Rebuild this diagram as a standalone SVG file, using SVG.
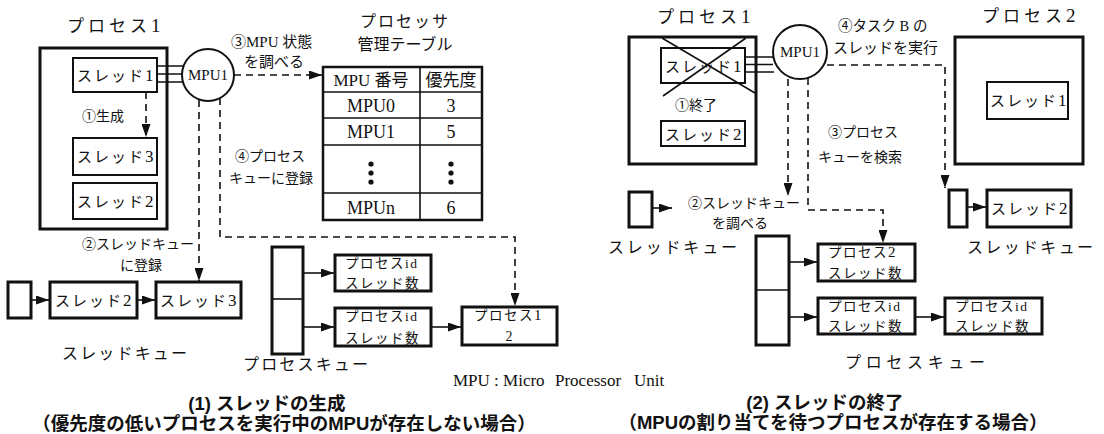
<svg xmlns="http://www.w3.org/2000/svg" width="1104" height="434" viewBox="0 0 1104 434">
<style>
.m{font-family:"Liberation Serif","Noto Sans CJK JP",serif;fill:#111}
.g{font-family:"Liberation Sans","Noto Sans CJK JP",sans-serif;font-weight:bold;fill:#111}
.c{font-family:"Noto Sans CJK JP",sans-serif}
.box{fill:#fff;stroke:#111;stroke-width:2}
.bx3{fill:#fff;stroke:#111;stroke-width:3}
.ln{fill:none;stroke:#111;stroke-width:1.6}
.ds{fill:none;stroke:#111;stroke-width:1.6;stroke-dasharray:7 5}
.dot{fill:#111}
</style>
<defs>
<marker id="ah" markerUnits="userSpaceOnUse" markerWidth="13" markerHeight="9" refX="13" refY="4.5" orient="auto">
<path d="M0,0 L13,4.5 L0,9 z" fill="#111"/>
</marker>
</defs>
<rect width="1104" height="434" fill="#fff"/>

<!-- ===== Left diagram (1) ===== -->
<g id="left-process1">
<text class="m" x="67" y="32" font-size="17" letter-spacing="4">プロセス<tspan font-size="19">1</tspan></text>
<rect class="bx3" x="40" y="48" width="127" height="181"/>
</g>
<g id="left-thread1">
<rect class="box" x="73" y="58" width="84" height="34"/>
<text class="m" x="77" y="81" font-size="15" letter-spacing="2">スレッド<tspan font-size="17">1</tspan></text>
</g>
<g id="left-label-create">
<text class="m" x="82" y="121" font-size="14"><tspan class="c">①</tspan>生成</text>
</g>
<g id="left-thread3">
<rect class="box" x="73" y="138" width="84" height="37"/>
<text class="m" x="77" y="162" font-size="15" letter-spacing="2">スレッド<tspan font-size="17">3</tspan></text>
</g>
<g id="left-thread2">
<rect class="box" x="73" y="183" width="84" height="36"/>
<text class="m" x="77" y="207" font-size="15" letter-spacing="2">スレッド<tspan font-size="17">2</tspan></text>
</g>
<g id="left-mpu1">
<circle cx="208" cy="75" r="26" fill="#fff" stroke="#111" stroke-width="2"/>
<text class="m" x="208" y="80" font-size="15" text-anchor="middle">MPU1</text>
</g>
<g id="left-label3">
<text class="m" x="231" y="47" font-size="15"><tspan class="c">③</tspan>MPU 状態</text>
<text class="m" x="244" y="67" font-size="15">を調べる</text>
</g>
<g id="left-label4">
<text class="m" x="235" y="161" font-size="14"><tspan class="c">④</tspan>プロセス</text>
<text class="m" x="229" y="183" font-size="14">キューに登録</text>
</g>
<g id="table-title">
<text class="m" x="405" y="27" font-size="16" text-anchor="middle" letter-spacing="2">プロセッサ</text>
<text class="m" x="405" y="50" font-size="16" text-anchor="middle">管理テーブル</text>
</g>
<g id="table">
<rect x="323" y="67" width="159" height="153" fill="#fff" stroke="#111" stroke-width="2.5"/>
<path class="ln" d="M323,92 H482 M323,118 H482 M323,145 H482 M323,193 H482 M420,67 V220"/>
<text class="m" x="371" y="86" font-size="17" text-anchor="middle">MPU 番号</text>
<text class="m" x="451" y="86" font-size="17" text-anchor="middle">優先度</text>
<text class="m" x="371" y="112" font-size="18" text-anchor="middle">MPU0</text>
<text class="m" x="451" y="112" font-size="18" text-anchor="middle">3</text>
<text class="m" x="371" y="138" font-size="18" text-anchor="middle">MPU1</text>
<text class="m" x="451" y="138" font-size="18" text-anchor="middle">5</text>
<circle class="dot" cx="371" cy="164" r="2.6"/><circle class="dot" cx="371" cy="173" r="2.6"/><circle class="dot" cx="371" cy="182" r="2.6"/>
<circle class="dot" cx="451" cy="164" r="2.6"/><circle class="dot" cx="451" cy="173" r="2.6"/><circle class="dot" cx="451" cy="182" r="2.6"/>
<text class="m" x="371" y="214" font-size="18" text-anchor="middle">MPUn</text>
<text class="m" x="451" y="214" font-size="18" text-anchor="middle">6</text>
</g>
<g id="left-label2">
<text class="m" x="82" y="249" font-size="14"><tspan class="c">②</tspan>スレッドキュー</text>
<text class="m" x="120" y="270" font-size="14">に登録</text>
</g>
<g id="left-tq-head"><rect class="bx3" x="8" y="282" width="23" height="36"/></g>
<g id="left-tq-thread2">
<rect class="bx3" x="50" y="282" width="87" height="36"/>
<text class="m" x="55" y="306" font-size="15" letter-spacing="2">スレッド<tspan font-size="17">2</tspan></text>
</g>
<g id="left-tq-thread3">
<rect class="bx3" x="156" y="282" width="85" height="36"/>
<text class="m" x="160" y="306" font-size="15" letter-spacing="2">スレッド<tspan font-size="17">3</tspan></text>
</g>
<g id="left-tq-label">
<text class="m" x="62" y="359" font-size="16" textLength="125" lengthAdjust="spacing">スレッドキュー</text>
</g>
<g id="left-pq-head">
<rect class="bx3" x="272" y="247" width="31" height="107"/>
<path class="ln" stroke-width="2.5" d="M272,299 H303"/>
</g>
<g id="left-pq-entry1">
<rect class="bx3" x="335" y="255" width="96" height="36"/>
<text class="m" x="345" y="268" font-size="13.5" letter-spacing="1.5">プロセスid</text>
<text class="m" x="345" y="288" font-size="13.5" letter-spacing="1.5">スレッド数</text>
</g>
<g id="left-pq-entry2">
<rect class="bx3" x="335" y="308" width="96" height="38"/>
<text class="m" x="345" y="321" font-size="13.5" letter-spacing="1.5">プロセスid</text>
<text class="m" x="345" y="343" font-size="13.5" letter-spacing="1.5">スレッド数</text>
</g>
<g id="left-pq-process1">
<rect class="bx3" x="462" y="307" width="95" height="38"/>
<text class="m" x="474" y="320" font-size="13.5" letter-spacing="1.5">プロセス<tspan font-size="15">1</tspan></text>
<text class="m" x="509" y="341" font-size="14" text-anchor="middle">2</text>
</g>
<g id="left-pq-label">
<text class="m" x="243" y="370" font-size="16" textLength="125" lengthAdjust="spacing">プロセスキュー</text>
</g>
<g id="legend">
<text class="m" x="453" y="386" font-size="17">MPU : Micro<tspan x="555">Processor</tspan><tspan x="634">Unit</tspan></text>
</g>
<g id="caption-left">
<text class="g" x="267" y="410" font-size="18.5" text-anchor="middle">(1)  スレッドの生成</text>
<text class="g" x="284" y="430" font-size="18.5" text-anchor="middle">（優先度の低いプロセスを実行中のMPUが存在しない場合）</text>
</g>

<!-- ===== Right diagram (2) ===== -->
<g id="right-process1">
<text class="m" x="657" y="23" font-size="17" letter-spacing="4">プロセス<tspan font-size="19">1</tspan></text>
<rect class="bx3" x="629" y="37" width="127" height="127"/>
</g>
<g id="right-thread1">
<rect class="box" x="661" y="48" width="84" height="35"/>
<text class="m" x="665" y="72" font-size="15" letter-spacing="2">スレッド<tspan font-size="17">1</tspan></text>
<path class="ln" d="M662,38 L755,93 M746,38 L663,96"/>
</g>
<g id="right-label-end">
<text class="m" x="675" y="110" font-size="14"><tspan class="c">①</tspan>終了</text>
</g>
<g id="right-thread2">
<rect class="box" x="661" y="121" width="84" height="25"/>
<text class="m" x="665" y="140" font-size="15" letter-spacing="2">スレッド<tspan font-size="17">2</tspan></text>
</g>
<g id="right-mpu1">
<circle cx="800" cy="52" r="27" fill="#fff" stroke="#111" stroke-width="2"/>
<text class="m" x="800" y="57" font-size="15" text-anchor="middle">MPU1</text>
</g>
<g id="right-label4">
<text class="m" x="838" y="31" font-size="14.5"><tspan class="c">④</tspan>タスク B の</text>
<text class="m" x="833" y="53" font-size="15">スレッドを実行</text>
</g>
<g id="right-label3">
<text class="m" x="828" y="137" font-size="14"><tspan class="c">③</tspan>プロセス</text>
<text class="m" x="818" y="162" font-size="14">キューを検索</text>
</g>
<g id="right-process2">
<text class="m" x="982" y="22" font-size="17" letter-spacing="4">プロセス<tspan font-size="19">2</tspan></text>
<rect class="bx3" x="955" y="37" width="128" height="127"/>
</g>
<g id="right-p2-thread1">
<rect class="box" x="987" y="82" width="81" height="37"/>
<text class="m" x="990" y="106" font-size="15" letter-spacing="2">スレッド<tspan font-size="17">1</tspan></text>
</g>
<g id="right-tq1-head"><rect class="bx3" x="629" y="192" width="23" height="35"/></g>
<g id="right-label2">
<text class="m" x="688" y="208" font-size="14"><tspan class="c">②</tspan>スレッドキュー</text>
<text class="m" x="712" y="228" font-size="14">を調べる</text>
</g>
<g id="right-tq1-label">
<text class="m" x="608" y="253" font-size="16" textLength="129" lengthAdjust="spacing">スレッドキュー</text>
</g>
<g id="right-tq2-head"><rect class="bx3" x="949" y="190" width="18" height="37"/></g>
<g id="right-tq2-thread2">
<rect class="bx3" x="987" y="190" width="84" height="37"/>
<text class="m" x="991" y="214" font-size="15" letter-spacing="2">スレッド<tspan font-size="17">2</tspan></text>
</g>
<g id="right-tq2-label">
<text class="m" x="967" y="253" font-size="16" textLength="126" lengthAdjust="spacing">スレッドキュー</text>
</g>
<g id="right-pq-head">
<rect class="bx3" x="756" y="236" width="33" height="109"/>
<path class="ln" stroke-width="2.5" d="M756,290 H789"/>
</g>
<g id="right-pq-process2">
<rect class="bx3" x="818" y="244" width="97" height="37"/>
<text class="m" x="828" y="257" font-size="13.5" letter-spacing="1.5">プロセス<tspan font-size="15">2</tspan></text>
<text class="m" x="828" y="278" font-size="13.5" letter-spacing="1.5">スレッド数</text>
</g>
<g id="right-pq-entry2">
<rect class="bx3" x="818" y="298" width="97" height="36"/>
<text class="m" x="828" y="311" font-size="13.5" letter-spacing="1.5">プロセスid</text>
<text class="m" x="828" y="331" font-size="13.5" letter-spacing="1.5">スレッド数</text>
</g>
<g id="right-pq-entry3">
<rect class="bx3" x="945" y="298" width="97" height="36"/>
<text class="m" x="955" y="311" font-size="13.5" letter-spacing="1.5">プロセスid</text>
<text class="m" x="955" y="331" font-size="13.5" letter-spacing="1.5">スレッド数</text>
</g>
<g id="right-pq-label">
<text class="m" x="845" y="368" font-size="16" textLength="140" lengthAdjust="spacing">プロセスキュー</text>
</g>
<g id="caption-right">
<text class="g" x="825" y="409" font-size="18.5" text-anchor="middle">(2)  スレッドの終了</text>
<text class="g" x="833" y="429" font-size="18.5" text-anchor="middle">（MPUの割り当てを待つプロセスが存在する場合）</text>
</g>

<g id="connectors">
<path class="ln" d="M157,66 H183 M157,74 H182 M157,82 H183"/>
<path class="ds" d="M146,92 V137" marker-end="url(#ah)"/>
<path class="ds" d="M234,75 H322" marker-end="url(#ah)"/>
<path class="ds" d="M199,100 V281" marker-end="url(#ah)"/>
<path class="ds" d="M220,98 V237 H515 V306" marker-end="url(#ah)"/>
<path class="ln" d="M31,300 H49" marker-end="url(#ah)"/>
<path class="ln" d="M137,300 H155" marker-end="url(#ah)"/>
<path class="ln" d="M303,273 H334" marker-end="url(#ah)"/>
<path class="ln" d="M303,327 H334" marker-end="url(#ah)"/>
<path class="ln" d="M431,327 H461" marker-end="url(#ah)"/>

<path class="ln" d="M745,57 H774 M745,64.5 H773 M745,72 H774"/>
<path class="ds" d="M788,79 V196" marker-end="url(#ah)"/>
<path class="ds" d="M808,78 V210 H883 V243" marker-end="url(#ah)"/>
<path class="ds" d="M827,65 H945 V188" marker-end="url(#ah)"/>
<path class="ln" d="M652,208 H672" marker-end="url(#ah)"/>
<path class="ln" d="M967,207 H986" marker-end="url(#ah)"/>
<path class="ln" d="M789,262 H817" marker-end="url(#ah)"/>
<path class="ln" d="M789,317 H817" marker-end="url(#ah)"/>
<path class="ln" d="M915,317 H944" marker-end="url(#ah)"/>
</g>
</svg>
